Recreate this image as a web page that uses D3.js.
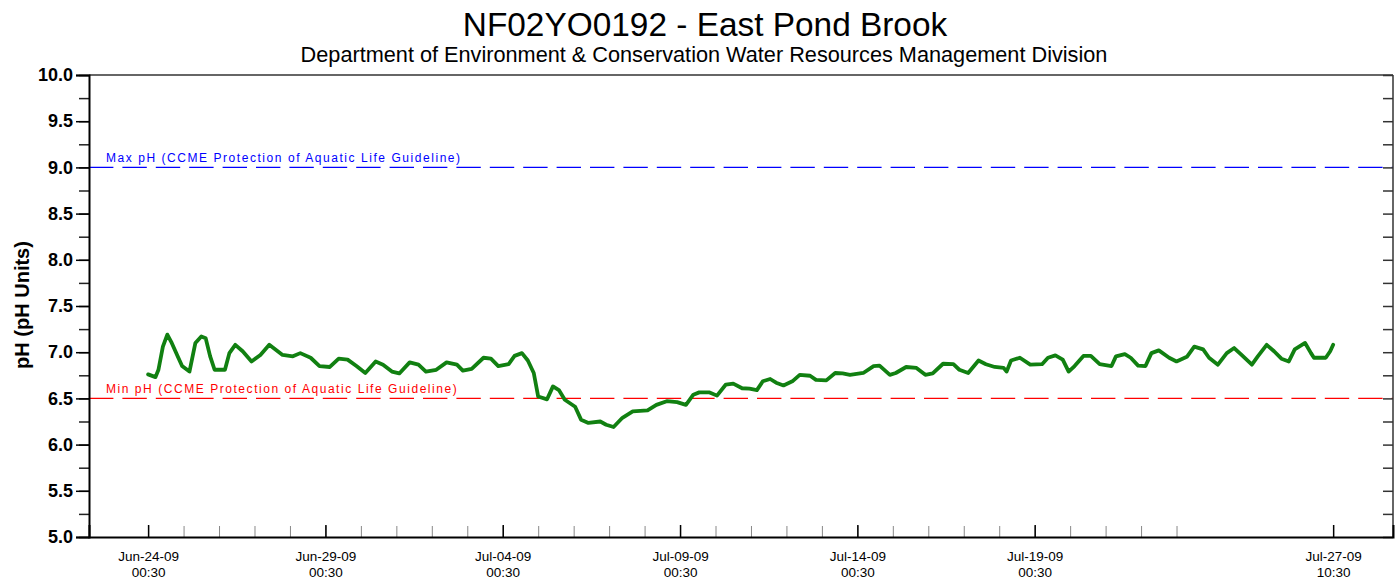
<!DOCTYPE html>
<html>
<head>
<meta charset="utf-8">
<script src="https://cdn.jsdelivr.net/npm/d3@7"></script>
<style>
  html, body { margin: 0; padding: 0; background: #fff; }
  svg { display: block; font-family: "Liberation Sans", Arial, sans-serif; }
</style>
</head>
<body>
<svg id="chart" width="1397" height="579"></svg>
<script>
// Station record: hours elapsed since the first reading (2009-06-24 00:30) and pH
const firstReading = Date.UTC(2009, 5, 24, 0, 30);
const elapsedHours = [
  0, 5, 7, 10, 13, 16, 20, 23, 28, 32, 36, 39, 42, 45, 52, 55, 59, 64, 70, 76,
  82, 91, 98, 103, 110, 116, 123, 129, 135, 141, 147, 154, 159, 165, 170, 177, 183, 188, 195, 202,
  209, 213, 219, 227, 232, 237, 244, 248, 253, 257, 261, 264, 270, 274, 278, 282, 289, 293, 298, 306,
  310, 315, 321, 328, 338, 344, 351, 358, 364, 369, 373, 380, 385, 391, 396, 402, 407, 412, 416, 421,
  425, 430, 436, 441, 448, 452, 459, 465, 470, 475, 484, 491, 495, 502, 506, 513, 520, 526, 531, 538,
  545, 549, 555, 562, 567, 573, 579, 581, 584, 590, 597, 605, 609, 614, 619, 623, 627, 633, 638, 644,
  652, 655, 661, 665, 670, 675, 679, 684, 691, 696, 703, 708, 714, 718, 724, 730, 735, 740, 747, 751,
  757, 762, 767, 772, 776, 783, 787, 789, 797, 800, 802
];
const phValues = [
  6.76, 6.73, 6.81, 7.06, 7.19, 7.10, 6.955, 6.85, 6.79, 7.10, 7.17, 7.15, 6.955, 6.81, 6.81, 6.99, 7.08, 7.01, 6.90, 6.97,
  7.08, 6.97, 6.955, 6.99, 6.94, 6.85, 6.84, 6.93, 6.92, 6.85, 6.775, 6.90, 6.865, 6.79, 6.77, 6.89, 6.865, 6.79, 6.81, 6.89,
  6.865, 6.80, 6.82, 6.94, 6.93, 6.85, 6.87, 6.96, 6.99, 6.91, 6.775, 6.52, 6.49, 6.63, 6.59, 6.485, 6.41, 6.27, 6.235, 6.25,
  6.215, 6.19, 6.29, 6.36, 6.37, 6.43, 6.47, 6.46, 6.43, 6.54, 6.565, 6.565, 6.53, 6.65, 6.66, 6.61, 6.605, 6.59, 6.685, 6.71,
  6.67, 6.64, 6.685, 6.755, 6.745, 6.70, 6.695, 6.775, 6.77, 6.755, 6.775, 6.85, 6.855, 6.755, 6.775, 6.84, 6.83, 6.755, 6.77, 6.875,
  6.87, 6.81, 6.775, 6.91, 6.87, 6.84, 6.83, 6.79, 6.91, 6.94, 6.865, 6.87, 6.94, 6.965, 6.92, 6.79, 6.85, 6.96, 6.96, 6.87,
  6.85, 6.955, 6.98, 6.94, 6.855, 6.85, 6.99, 7.02, 6.94, 6.90, 6.95, 7.06, 7.03, 6.94, 6.865, 6.99, 7.045, 6.97, 6.865, 6.955,
  7.08, 7.01, 6.93, 6.90, 7.03, 7.10, 6.99, 6.94, 6.94, 7.01, 7.08
];

// Guideline limits
const guidelineValues = [9.0, 6.5];
const guidelineLabels = [
  "Max pH (CCME Protection of Aquatic Life Guideline)",
  "Min pH (CCME Protection of Aquatic Life Guideline)"
];
const guidelineColors = ["#0000ff", "#ff0000"];

// Labelled time ticks
const majorTickTimes = [
  "2009-06-24T00:30", "2009-06-29T00:30", "2009-07-04T00:30", "2009-07-09T00:30",
  "2009-07-14T00:30", "2009-07-19T00:30", "2009-07-27T10:30"
];
const yMajorTicks = [5.0, 5.5, 6.0, 6.5, 7.0, 7.5, 8.0, 8.5, 9.0, 9.5, 10.0];

const titleText = "NF02YO0192 - East Pond Brook";
const subtitleText = "Department of Environment & Conservation Water Resources Management Division";
const yAxisTitle = "pH (pH Units)";

const parseTime = d3.utcParse("%Y-%m-%dT%H:%M");
const series = elapsedHours.map((h, i) => ({
  t: new Date(firstReading + h * 3600 * 1000),
  v: phValues[i]
}));

const svg = d3.select("#chart");
const plotLeft = 89, plotRight = 1393, plotTop = 75, plotBottom = 537;

const x = d3.scaleUtc()
  .domain([parseTime("2009-06-22T08:30"), parseTime("2009-07-29T03:00")])
  .range([plotLeft, plotRight]);
const y = d3.scaleLinear().domain([5, 10]).range([plotBottom, plotTop]);

// Titles
svg.append("text").attr("x", 705).attr("y", 36).attr("text-anchor", "middle")
  .attr("font-size", 33.4).attr("fill", "#000").text(titleText);
svg.append("text").attr("x", 704).attr("y", 62).attr("text-anchor", "middle")
  .attr("font-size", 21.7).attr("fill", "#000").text(subtitleText);
svg.append("text")
  .attr("transform", `translate(29,305) rotate(-90)`)
  .attr("text-anchor", "middle").attr("font-size", 20).attr("font-weight", "bold")
  .attr("fill", "#000").text(yAxisTitle);

// Guideline dashed lines and their captions
guidelineValues.forEach((g, i) => {
  svg.append("line")
    .attr("x1", plotLeft).attr("x2", plotRight).attr("y1", y(g)).attr("y2", y(g))
    .attr("stroke", guidelineColors[i]).attr("stroke-width", 1.3)
    .attr("stroke-dasharray", "24.4,9");
  svg.append("text")
    .attr("x", 106).attr("y", y(g) - 5)
    .attr("font-size", 12).attr("letter-spacing", 1.55)
    .attr("fill", guidelineColors[i]).text(guidelineLabels[i]);
});

// Frame: top and right borders
svg.append("line").attr("x1", plotLeft).attr("x2", plotRight).attr("y1", plotTop).attr("y2", plotTop)
  .attr("stroke", "#333").attr("stroke-width", 1.5);
svg.append("line").attr("x1", plotRight).attr("x2", plotRight).attr("y1", plotTop).attr("y2", plotBottom)
  .attr("stroke", "#333").attr("stroke-width", 1.5);

// Right axis: inward ticks every 0.25
const quarterTicks = d3.range(5, 10.001, 0.25);
const rightAxis = svg.append("g").attr("transform", `translate(${plotRight},0)`)
  .call(d3.axisLeft(y).tickValues(quarterTicks).tickSize(10).tickFormat(""));
rightAxis.select(".domain").remove();
rightAxis.selectAll(".tick line").attr("stroke", "#333").attr("stroke-width", 1.5);

// Left axis: minor ticks then labelled major ticks
const leftMinor = svg.append("g").attr("transform", `translate(${plotLeft},0)`)
  .call(d3.axisLeft(y).tickValues(quarterTicks).tickSize(10).tickFormat(""));
leftMinor.select(".domain").remove();
leftMinor.selectAll(".tick line").attr("stroke", "#222").attr("stroke-width", 1.5);

const leftAxis = svg.append("g").attr("transform", `translate(${plotLeft},0)`)
  .call(d3.axisLeft(y).tickValues(yMajorTicks).tickSize(13).tickPadding(3)
    .tickFormat(d3.format(".1f")));
leftAxis.select(".domain").attr("stroke", "#000").attr("stroke-width", 2);
leftAxis.selectAll(".tick line").attr("stroke", "#000").attr("stroke-width", 1.5);
leftAxis.selectAll(".tick text")
  .attr("font-family", "'Liberation Sans', Arial, sans-serif")
  .attr("font-size", 18).attr("font-weight", "bold").attr("fill", "#000");

// Bottom axis: daily minor ticks, labelled major ticks
const dailyTicks = d3.range(0, 30).map(d => new Date(firstReading + d * 86400000));
const bottomMinor = svg.append("g").attr("transform", `translate(0,${plotBottom})`)
  .call(d3.axisBottom(x).tickValues(dailyTicks).tickSize(-11).tickFormat(""));
bottomMinor.select(".domain").remove();
bottomMinor.selectAll(".tick line").attr("stroke", "#888").attr("stroke-width", 1);

const majorDates = majorTickTimes.map(parseTime);
const bottomAxis = svg.append("g").attr("transform", `translate(0,${plotBottom})`)
  .call(d3.axisBottom(x).tickValues(majorDates).tickSize(-12).tickFormat(""));
bottomAxis.select(".domain").attr("stroke", "#000").attr("stroke-width", 2);
bottomAxis.selectAll(".tick line").attr("stroke", "#000").attr("stroke-width", 1.5);
const fmtDate = d3.utcFormat("%b-%d-%y"), fmtTime = d3.utcFormat("%H:%M");
bottomAxis.selectAll(".tick").each(function(d) {
  const t = d3.select(this).append("text")
    .attr("fill", "#000").attr("text-anchor", "middle")
    .attr("font-family", "'Liberation Sans', Arial, sans-serif").attr("font-size", 13.5);
  t.append("tspan").attr("x", 0).attr("y", 24).text(fmtDate(d));
  t.append("tspan").attr("x", 0).attr("y", 39.5).text(fmtTime(d));
});

// pH series
const line = d3.line().x(d => x(d.t)).y(d => y(d.v));
svg.append("path").datum(series)
  .attr("d", line).attr("fill", "none")
  .attr("stroke", "#118011").attr("stroke-width", 3.8)
  .attr("stroke-linejoin", "round").attr("stroke-linecap", "round");
</script>
</body>
</html>
